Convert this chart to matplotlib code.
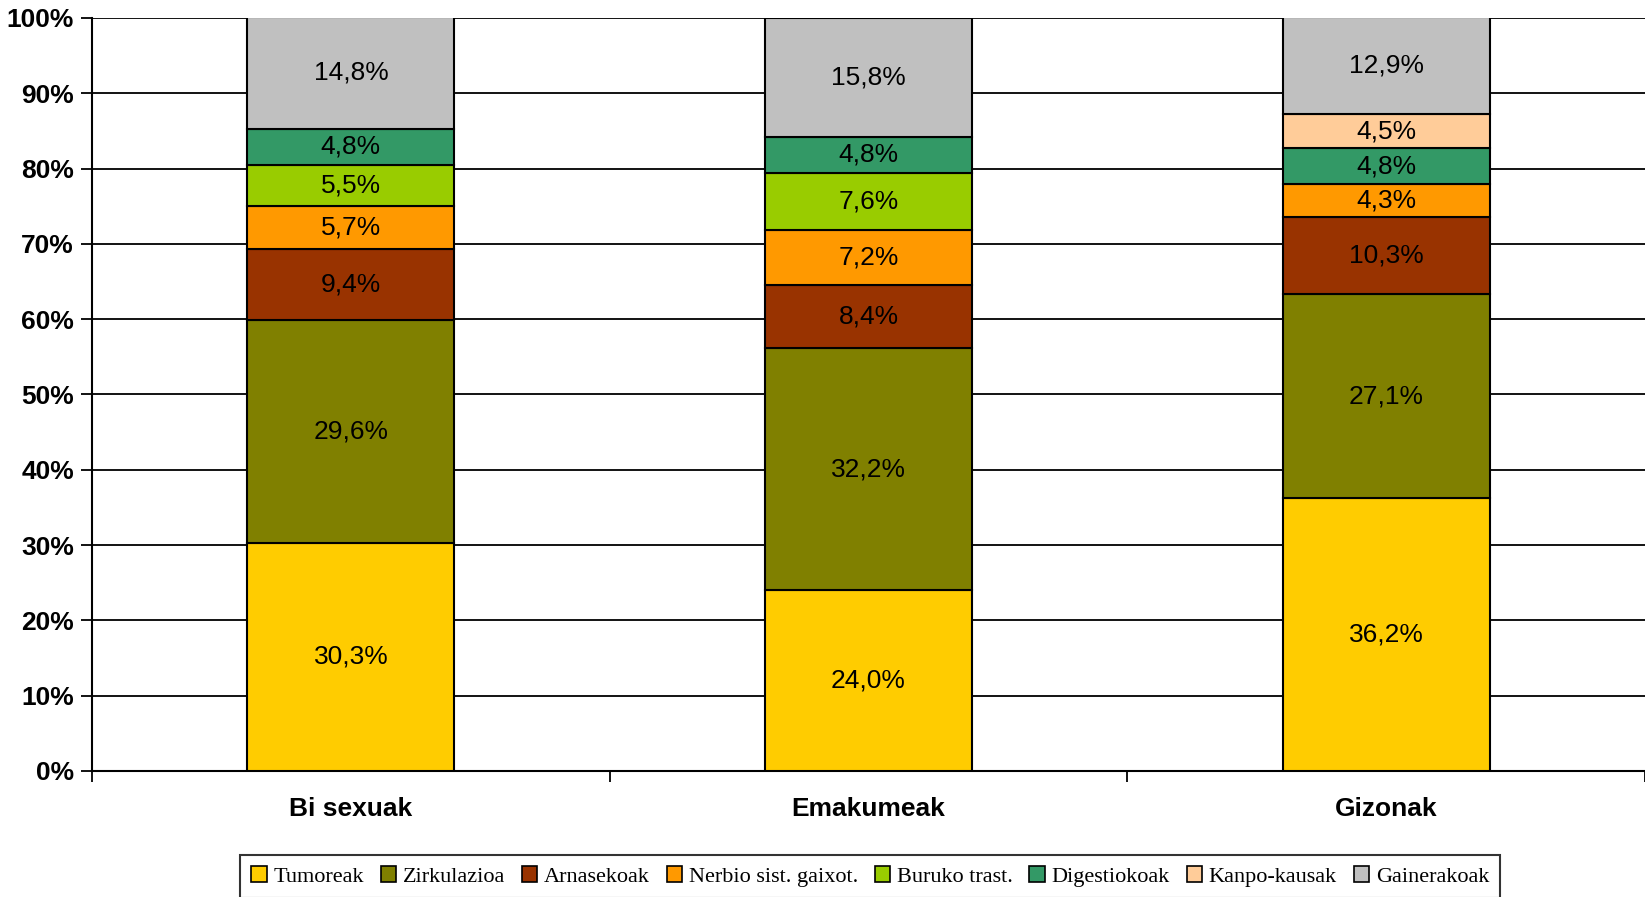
import numpy as np
import matplotlib
matplotlib.use('Agg')
import matplotlib.pyplot as plt
from matplotlib.patches import Patch

# categories and series (percent of deaths)
groups = ['Bi sexuak', 'Emakumeak', 'Gizonak']
causes = ['Tumoreak', 'Zirkulazioa', 'Arnasekoak', 'Nerbio sist. gaixot.',
          'Buruko trast.', 'Digestiokoak', 'Kanpo-kausak', 'Gainerakoak']

tumoreak = [30.3, 24.0, 36.2]
zirkulazioa = [29.6, 32.2, 27.1]
arnasekoak = [9.4, 8.4, 10.3]
nerbio = [5.7, 7.2, 4.3]
buruko = [5.5, 7.6, 0.0]
digestiokoak = [4.8, 4.8, 4.8]
kanpo = [0.0, 0.0, 4.5]
gainerakoak = [14.8, 15.8, 12.9]

series = [tumoreak, zirkulazioa, arnasekoak, nerbio, buruko,
          digestiokoak, kanpo, gainerakoak]
colors = ['#FFCC00', '#808000', '#993300', '#FF9900', '#99CC00',
          '#339966', '#FFCC99', '#C0C0C0']

fig = plt.figure(figsize=(16.45, 8.97), dpi=100)
ax = fig.add_axes([0.056, 0.1405, 0.944, 0.8395])

x = np.arange(len(groups))
bottom = np.zeros(len(groups))
for vals, col in zip(series, colors):
    vals = np.array(vals)
    for i in range(len(groups)):
        if vals[i] <= 0:
            continue
        ax.bar(x[i], vals[i], width=0.4, bottom=bottom[i], color=col,
               edgecolor='black', linewidth=1.5, zorder=3)
        ax.text(x[i], bottom[i] + vals[i] / 2,
                ('%.1f%%' % vals[i]).replace('.', ','),
                ha='center', va='center', fontsize=19,
                family='Liberation Sans', color='black', zorder=4)
    bottom += vals

ax.set_xlim(-0.5, 2.5)
ax.set_ylim(0, 100)

# gridlines
ax.set_yticks(np.arange(0, 101, 10))
ax.set_yticklabels(['%d%%' % v for v in range(0, 101, 10)],
                   fontsize=19, fontweight='bold', family='Liberation Sans')
ax.yaxis.grid(True, color='black', linewidth=1.3, zorder=0)
ax.set_axisbelow(True)
ax.tick_params(axis='y', length=8, width=1.3, pad=5)

ax.set_xticks(x)
ax.set_xticklabels(groups, fontsize=19, fontweight='bold',
                   family='Liberation Sans')
ax.set_xticks([-0.5, 0.5, 1.5, 2.5], minor=True)
ax.tick_params(axis='x', which='major', length=0, pad=19)
ax.tick_params(axis='x', which='minor', length=8, width=1.3)

for s in ['top', 'right']:
    ax.spines[s].set_visible(False)
for s in ['left', 'bottom']:
    ax.spines[s].set_linewidth(1.5)

handles = [Patch(facecolor=c, edgecolor='black', linewidth=1.2) for c in colors]
leg = fig.legend(handles, causes, loc='upper center',
                 bbox_to_anchor=(0.529, 0.059), ncol=8,
                 prop={'family': 'Liberation Serif', 'size': 16},
                 frameon=True, fancybox=False, edgecolor='black',
                 handlelength=0.7, handleheight=0.7, handletextpad=0.3,
                 columnspacing=0.75, borderpad=0.5)
leg.get_frame().set_linewidth(1.5)

fig.savefig('out.png', dpi=100)
